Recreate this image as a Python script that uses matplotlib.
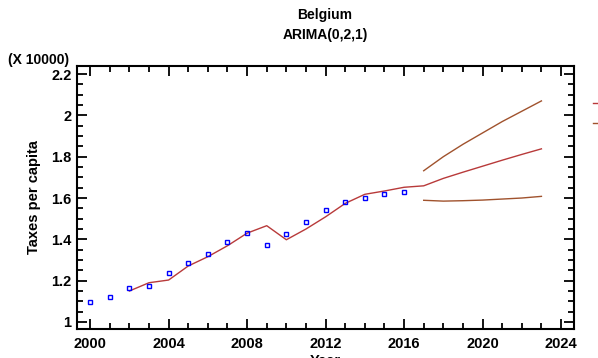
import matplotlib
matplotlib.use("Agg")
import matplotlib.pyplot as plt
from matplotlib.ticker import MultipleLocator, FixedLocator
from matplotlib.lines import Line2D

plt.rcParams['font.family'] = ['Liberation Sans', 'DejaVu Sans']
plt.rcParams['font.weight'] = 'bold'

# Observed taxes per capita (in units of 10000)
obs_years = list(range(2000, 2017))
obs_values = [1.097, 1.122, 1.163, 1.176, 1.239, 1.285, 1.330, 1.388,
              1.430, 1.373, 1.427, 1.484, 1.540, 1.582, 1.598, 1.619, 1.629]

# ARIMA(0,2,1) fitted values and forecasts
fit_years = list(range(2002, 2024))
fit_values = [1.150, 1.190, 1.203, 1.271, 1.316, 1.369, 1.430, 1.466,
              1.398, 1.450, 1.509, 1.574, 1.618, 1.634, 1.652, 1.659,
              1.695, 1.725, 1.754, 1.783, 1.811, 1.838]

# 95% forecast limits
lim_years = list(range(2017, 2024))
upper_values = [1.732, 1.800, 1.860, 1.915, 1.970, 2.020, 2.070]
lower_values = [1.589, 1.585, 1.587, 1.590, 1.595, 1.600, 1.608]

fit_color = '#b83a3a'
lim_color = '#a0522d'

fig = plt.figure(figsize=(5.98, 3.58), dpi=100)
W, H = 598, 358
ax = fig.add_axes([77 / W, 1 - 329 / H, (574 - 77) / W, (329 - 66) / H])

ax.plot(fit_years, fit_values, color=fit_color, lw=1.0, label='Forecast')
ax.plot(lim_years, upper_values, color=lim_color, lw=1.0, label='95.0% limits')
ax.plot(lim_years, lower_values, color=lim_color, lw=1.0)
ax.plot(obs_years, obs_values, linestyle='none', marker='s', markersize=3.2,
        markerfacecolor='none', markeredgecolor='#0000ff', markeredgewidth=1.0)

ax.set_xlim(1999.33, 2024.66)
ax.set_ylim(0.966, 2.239)

ax.xaxis.set_major_locator(FixedLocator([2000, 2004, 2008, 2012, 2016, 2020, 2024]))
ax.xaxis.set_minor_locator(MultipleLocator(1))
ax.yaxis.set_major_locator(FixedLocator([1.0, 1.2, 1.4, 1.6, 1.8, 2.0, 2.2]))
ax.yaxis.set_minor_locator(MultipleLocator(0.05))
ax.set_yticklabels(['1', '1.2', '1.4', '1.6', '1.8', '2', '2.2'])

ax.tick_params(which='both', direction='in', top=True, right=True,
               width=1.3, labelsize=10.5, pad=4)
ax.tick_params(axis='x', which='both', pad=6)
ax.tick_params(which='major', length=7)
ax.tick_params(which='minor', length=4)
for lab in ax.get_xticklabels() + ax.get_yticklabels():
    lab.set_fontweight('bold')
for sp in ax.spines.values():
    sp.set_linewidth(1.5)

ax.set_xlabel('Year', fontsize=10.5, fontweight='bold', labelpad=2)
ax.set_ylabel('Taxes per capita', fontsize=10.5, fontweight='bold', labelpad=7)

fig.text(325 / W, 1 - 15 / H, 'Belgium', ha='center', va='center',
         fontsize=10, fontweight='bold')
fig.text(325 / W, 1 - 35 / H, 'ARIMA(0,2,1)', ha='center', va='center',
         fontsize=10, fontweight='bold')
fig.text(8 / W, 1 - 60 / H, '(X 10000)', ha='left', va='center',
         fontsize=10, fontweight='bold')

# Legend sits beyond the right margin
fig.legend(handles=[Line2D([], [], color=fit_color, lw=1.0),
                    Line2D([], [], color=lim_color, lw=1.0)],
           labels=['Forecast', '95.0% limits'],
           loc='upper left', bbox_to_anchor=(593 / W, 1 - 97 / H),
           frameon=False, borderpad=0, borderaxespad=0, handlelength=2,
           handletextpad=0.5, labelspacing=0.4, fontsize=10)

fig.savefig('out.png', dpi=100)
